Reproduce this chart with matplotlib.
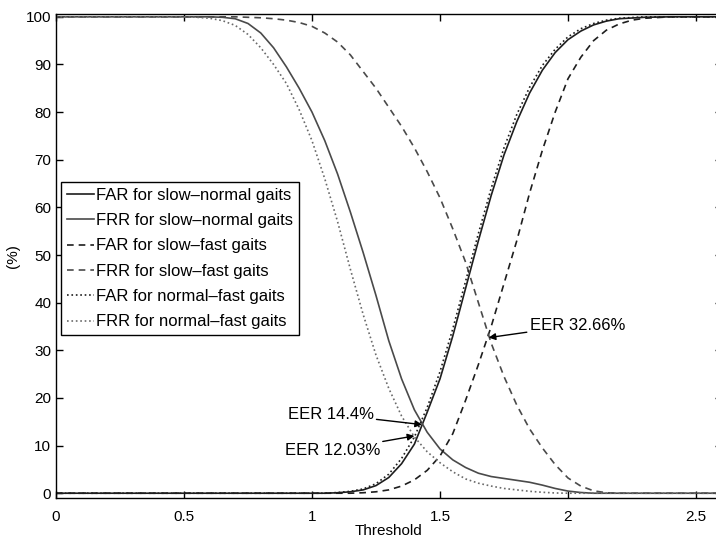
import matplotlib
matplotlib.use("Agg")
import matplotlib.pyplot as plt

plt.rcParams['font.family'] = ['Liberation Sans', 'DejaVu Sans']

# Slow-normal gaits
sn_far_x = [0, 1.05, 1.1, 1.15, 1.2, 1.25, 1.3, 1.35, 1.4, 1.45, 1.5, 1.55, 1.6, 1.65, 1.7, 1.75,
            1.8, 1.85, 1.9, 1.95, 2.0, 2.05, 2.1, 2.15, 2.2, 2.3, 2.4, 2.6]
sn_far_y = [0, 0, 0.1, 0.3, 0.7, 1.6, 3.3, 6.2, 10.3, 17, 24, 33, 43, 53, 62.5, 71,
            78, 84, 88.8, 92.5, 95.2, 97, 98.3, 99.1, 99.6, 99.9, 100, 100]
sn_frr_x = [0, 0.6, 0.65, 0.7, 0.75, 0.8, 0.85, 0.9, 0.95, 1.0, 1.05, 1.1, 1.15, 1.2, 1.25, 1.3,
            1.35, 1.4, 1.45, 1.5, 1.55, 1.6, 1.65, 1.7, 1.75, 1.8, 1.85, 1.9, 1.95, 2.0, 2.05, 2.1, 2.6]
sn_frr_y = [100, 100, 99.9, 99.6, 98.6, 96.6, 93.5, 89.5, 85, 80, 74, 67, 59, 50.5, 41.5, 32,
            24, 17.5, 12.8, 9.3, 7, 5.4, 4.2, 3.5, 3.1, 2.7, 2.3, 1.7, 1.0, 0.45, 0.15, 0, 0]

# Slow-fast gaits
sf_far_x = [0, 1.15, 1.2, 1.25, 1.3, 1.35, 1.4, 1.45, 1.5, 1.55, 1.6, 1.65, 1.7, 1.75, 1.8, 1.85,
            1.9, 1.95, 2.0, 2.05, 2.1, 2.15, 2.2, 2.25, 2.3, 2.4, 2.6]
sf_far_y = [0, 0, 0.1, 0.3, 0.7, 1.5, 2.8, 4.8, 7.8, 12.5, 19.5, 27, 35, 44, 53, 63,
            72, 80, 87, 91.5, 95, 97.2, 98.5, 99.3, 99.7, 100, 100]
sf_frr_x = [0, 0.7, 0.75, 0.8, 0.85, 0.9, 0.95, 1.0, 1.05, 1.1, 1.15, 1.2, 1.25, 1.3, 1.35, 1.4,
            1.45, 1.5, 1.55, 1.6, 1.65, 1.7, 1.75, 1.8, 1.85, 1.9, 1.95, 2.0, 2.05, 2.1, 2.15, 2.2, 2.6]
sf_frr_y = [100, 100, 99.9, 99.8, 99.6, 99.3, 98.8, 98, 96.6, 94.7, 92, 88.5, 85, 81, 77, 72.5,
            67.5, 62, 55.5, 48.5, 40, 31.5, 24.5, 18.5, 13.5, 9.5, 6, 3.2, 1.5, 0.5, 0.1, 0, 0]

# Normal-fast gaits
nf_far_x = [0, 1.05, 1.1, 1.15, 1.2, 1.25, 1.3, 1.35, 1.4, 1.45, 1.5, 1.55, 1.6, 1.65, 1.7, 1.75,
            1.8, 1.85, 1.9, 1.95, 2.0, 2.05, 2.1, 2.15, 2.2, 2.3, 2.6]
nf_far_y = [0, 0, 0.15, 0.4, 0.9, 2, 4, 7.3, 11.8, 18, 25.5, 34.5, 44.5, 54.5, 64, 72.5,
            79.5, 85.2, 89.8, 93.2, 95.8, 97.5, 98.6, 99.3, 99.7, 100, 100]
nf_frr_x = [0, 0.5, 0.55, 0.6, 0.65, 0.7, 0.75, 0.8, 0.85, 0.9, 0.95, 1.0, 1.05, 1.1, 1.15, 1.2,
            1.25, 1.3, 1.35, 1.4, 1.45, 1.5, 1.55, 1.6, 1.65, 1.7, 1.75, 1.8, 1.85, 1.9, 1.95, 2.0, 2.6]
nf_frr_y = [100, 100, 99.9, 99.7, 99.2, 98.2, 96.3, 93.5, 90, 86, 80.5, 74, 66, 57, 47, 37.5,
            29, 22, 16.2, 11.8, 8.7, 6.4, 4.5, 3.0, 2.1, 1.5, 1.0, 0.7, 0.4, 0.2, 0.05, 0, 0]

# Equal error rate points: (threshold, value, label)
eer_points = [(1.43, 14.4, 'EER 14.4%'), (1.40, 12.03, 'EER 12.03%'), (1.69, 32.66, 'EER 32.66%')]
eer_text_pos = [(0.905, 16.6), (0.893, 9.0), (1.85, 35.3)]

fig = plt.figure(figsize=(7.16, 5.39), dpi=100)
ax = fig.add_axes([0.0782, 0.0761, 0.9296, 0.898])

dark = '#1e1e1e'
gray = '#4a4a4a'
lw = 1.2
ax.plot(sn_far_x, sn_far_y, '-', color=dark, lw=lw, label='FAR for slow–normal gaits')
ax.plot(sn_frr_x, sn_frr_y, '-', color=gray, lw=lw, label='FRR for slow–normal gaits')
ax.plot(sf_far_x, sf_far_y, '--', color=dark, lw=lw, dashes=(4, 3), label='FAR for slow–fast gaits')
ax.plot(sf_frr_x, sf_frr_y, '--', color=gray, lw=lw, dashes=(4, 3), label='FRR for slow–fast gaits')
ax.plot(nf_far_x, nf_far_y, ':', color=dark, lw=lw, label='FAR for normal–fast gaits')
ax.plot(nf_frr_x, nf_frr_y, ':', color='#6a6a6a', lw=lw, label='FRR for normal–fast gaits')

for (px, py, txt), (tx, ty) in zip(eer_points, eer_text_pos):
    ax.annotate(txt, xy=(px, py), xytext=(tx, ty), fontsize=12, ha='left', va='center',
                arrowprops=dict(arrowstyle='-|>', color='black', lw=1, mutation_scale=10,
                                shrinkA=0, shrinkB=0))

ax.set_xlim(0, 2.6)
ax.set_ylim(-1, 100.6)
ax.set_xticks([0, 0.5, 1, 1.5, 2, 2.5])
ax.set_xticklabels(['0', '0.5', '1', '1.5', '2', '2.5'])
ax.set_yticks(range(0, 101, 10))
ax.tick_params(direction='in', top=True, right=True, labelsize=11, length=5, width=1)
ax.tick_params(axis='x', pad=9)
for s in ax.spines.values():
    s.set_linewidth(1)
ax.set_xlabel('Threshold', fontsize=11, labelpad=0)
ax.set_ylabel('(%)', fontsize=11, labelpad=4)

leg = ax.legend(loc='upper left', bbox_to_anchor=(0.008, 0.653), fontsize=12, handlelength=1.6,
                handletextpad=0.15, borderaxespad=0, fancybox=False, framealpha=1,
                edgecolor='black', borderpad=0.35, labelspacing=0.62)
leg.get_frame().set_linewidth(1)

fig.savefig('out.png', dpi=100)
